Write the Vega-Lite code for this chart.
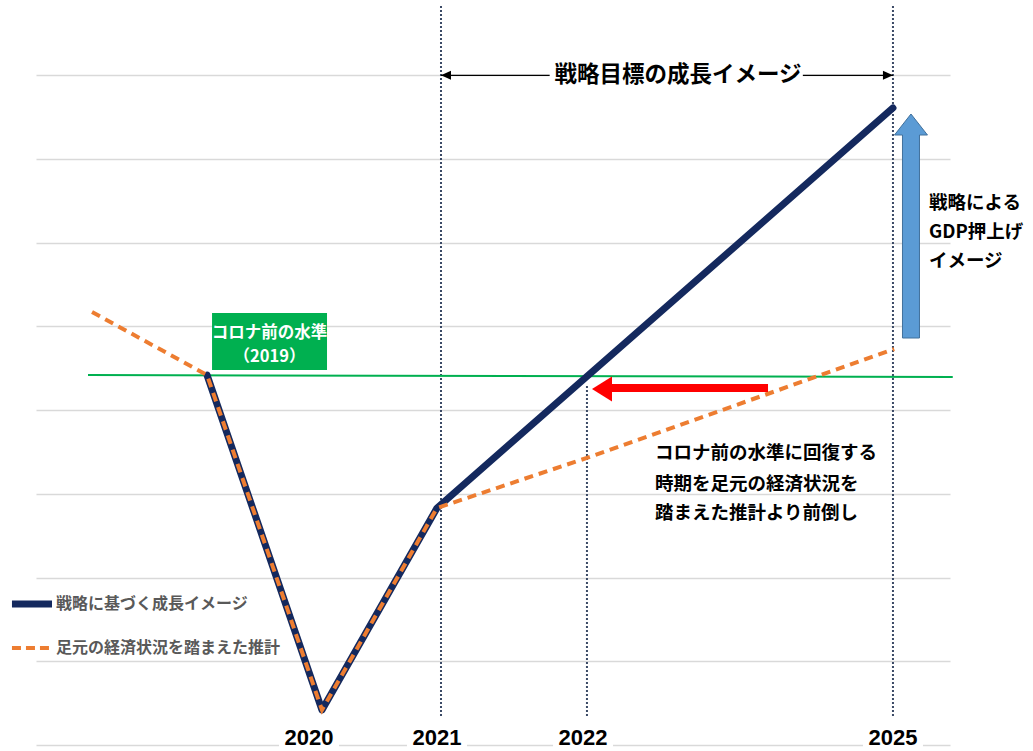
{
  "$schema": "https://vega.github.io/schema/vega-lite/v6.json",
  "width": 914,
  "height": 745,
  "autosize": "none",
  "padding": {"left": 36, "top": 0, "right": 83, "bottom": 6},
  "background": "white",
  "config": {"view": {"stroke": null}, "font": "Noto Sans CJK JP"},
  "datasets": {
    "navy": [
      {"x": 18.71, "y": 4.42},
      {"x": 31.29, "y": 0.418},
      {"x": 43.87, "y": 2.831},
      {"x": 93.76, "y": 7.61}
    ],
    "orange": [
      {"x": 6.13, "y": 5.173},
      {"x": 18.71, "y": 4.42},
      {"x": 31.29, "y": 0.418},
      {"x": 43.87, "y": 2.831},
      {"x": 60.28, "y": 3.43},
      {"x": 93.9, "y": 4.73}
    ],
    "vlines": [
      {"year": "2021", "x": 44.31, "y": 0.346, "y2": 8.84},
      {"year": "2022", "x": 60.28, "y": 0.346, "y2": 4.30},
      {"year": "2025", "x": 93.76, "y": 0.346, "y2": 8.84}
    ],
    "green": [{"x": 5.69, "y": 4.42, "x2": 100.3, "y2": 4.396}],
    "span": [{"x": 44.31, "x2": 93.76, "y": 8.0}],
    "spanHeads": [
      {"dir": "L", "x": 44.31, "y": 8.0},
      {"dir": "R", "x": 93.76, "y": 8.0}
    ],
    "title": [{"label": "戦略目標の成長イメージ", "x": 70.24, "y": 8.0, "x1": 56.2, "x2": 83.9, "y1": 7.85, "y2": 8.16}],
    "box": [{"x": 19.26, "x2": 31.84, "y": 5.161, "y2": 4.48}],
    "boxText": [
      {"label": "コロナ前の水準", "x": 25.55, "y": 4.922},
      {"label": "（2019）", "x": 25.55, "y": 4.635}
    ],
    "blueArrow": [{"x": 95.73, "y": 7.538}],
    "rightText": [
      {"label": "戦略による", "x": 97.7, "y": 6.475},
      {"label": "GDP押上げ", "x": 97.7, "y": 6.128},
      {"label": "イメージ", "x": 97.7, "y": 5.782}
    ],
    "redShaft": [{"x": 62.8, "x2": 80.09, "y": 4.265}],
    "redHead": [{"x": 60.83, "y": 4.253}],
    "note": [
      {"label": "コロナ前の水準に回復する", "x": 67.72, "y": 3.488},
      {"label": "時期を足元の経済状況を", "x": 67.72, "y": 3.118},
      {"label": "踏まえた推計より前倒し", "x": 67.72, "y": 2.771}
    ],
    "years": [
      {"label": "2020", "x": 29.87, "y": 0.08},
      {"label": "2021", "x": 43.87, "y": 0.08},
      {"label": "2022", "x": 59.85, "y": 0.08},
      {"label": "2025", "x": 93.76, "y": 0.08}
    ],
    "legend": [
      {"series": "戦略に基づく成長イメージ", "x": -2.63, "x2": 1.75, "y": 1.684, "tx": 2.19},
      {"series": "足元の経済状況を踏まえた推計", "x": -2.63, "x2": 1.75, "y": 1.159, "tx": 2.19}
    ]
  },
  "layer": [
    {
      "data": {"name": "vlines"},
      "mark": {"type": "rule", "color": "#3b4a66", "strokeWidth": 2, "strokeDash": [2, 2]},
      "encoding": {
        "x": {"field": "x", "type": "quantitative", "scale": {"domain": [0, 100], "nice": false, "zero": false}, "axis": null},
        "y": {"field": "y", "type": "quantitative", "scale": {"domain": [0, 8.9], "nice": false, "zero": false},
          "axis": {"values": [0, 1, 2, 3, 4, 5, 6, 7, 8], "grid": true, "gridColor": "#d9d9d9", "gridWidth": 1.5, "labels": false, "ticks": false, "domain": false, "title": null}},
        "y2": {"field": "y2"}
      }
    },
    {
      "data": {"name": "green"},
      "mark": {"type": "rule", "color": "#00b050", "strokeWidth": 2},
      "encoding": {
        "x": {"field": "x", "type": "quantitative"},
        "x2": {"field": "x2"},
        "y": {"field": "y", "type": "quantitative"},
        "y2": {"field": "y2"}
      }
    },
    {
      "data": {"name": "span"},
      "mark": {"type": "rule", "color": "#000000", "strokeWidth": 1.3},
      "encoding": {
        "x": {"field": "x", "type": "quantitative"},
        "x2": {"field": "x2"},
        "y": {"field": "y", "type": "quantitative"}
      }
    },
    {
      "data": {"name": "spanHeads"},
      "mark": {"type": "point", "filled": true, "color": "#000000", "opacity": 1, "size": 400, "strokeWidth": 0},
      "encoding": {
        "x": {"field": "x", "type": "quantitative"},
        "y": {"field": "y", "type": "quantitative"},
        "shape": {"field": "dir", "type": "nominal", "legend": null,
          "scale": {"domain": ["L", "R"], "range": ["M0,0 L1,-0.45 L1,0.45 Z", "M0,0 L-1,-0.45 L-1,0.45 Z"]}}
      }
    },
    {
      "data": {"name": "title"},
      "mark": {"type": "rect", "color": "white", "opacity": 1},
      "encoding": {
        "x": {"field": "x1", "type": "quantitative"},
        "x2": {"field": "x2"},
        "y": {"field": "y1", "type": "quantitative"},
        "y2": {"field": "y2"}
      }
    },
    {
      "data": {"name": "title"},
      "mark": {"type": "text", "fontSize": 22.5, "fontWeight": "bold", "color": "#000000", "align": "center", "baseline": "middle"},
      "encoding": {
        "x": {"field": "x", "type": "quantitative"},
        "y": {"field": "y", "type": "quantitative"},
        "text": {"field": "label"}
      }
    },
    {
      "data": {"name": "navy"},
      "mark": {"type": "line", "color": "#14295e", "strokeWidth": 7, "strokeJoin": "round", "strokeCap": "round"},
      "encoding": {
        "x": {"field": "x", "type": "quantitative"},
        "y": {"field": "y", "type": "quantitative"},
        "order": {"field": "x"}
      }
    },
    {
      "data": {"name": "orange"},
      "mark": {"type": "line", "color": "#ed7d31", "strokeWidth": 4, "strokeDash": [9, 6]},
      "encoding": {
        "x": {"field": "x", "type": "quantitative"},
        "y": {"field": "y", "type": "quantitative"},
        "order": {"field": "x"}
      }
    },
    {
      "data": {"name": "box"},
      "mark": {"type": "rect", "color": "#00b050", "opacity": 1},
      "encoding": {
        "x": {"field": "x", "type": "quantitative"},
        "x2": {"field": "x2"},
        "y": {"field": "y", "type": "quantitative"},
        "y2": {"field": "y2"}
      }
    },
    {
      "data": {"name": "boxText"},
      "mark": {"type": "text", "fontSize": 16.5, "fontWeight": "bold", "color": "white", "align": "center", "baseline": "middle"},
      "encoding": {
        "x": {"field": "x", "type": "quantitative"},
        "y": {"field": "y", "type": "quantitative"},
        "text": {"field": "label"}
      }
    },
    {
      "data": {"name": "blueArrow"},
      "mark": {"type": "point", "filled": true, "fill": "#5b9bd5", "stroke": "#41719c", "strokeWidth": 1, "opacity": 1, "size": 400,
        "shape": "M0,0 L1.65,2.1 L0.85,2.1 L0.85,22.4 L-0.85,22.4 L-0.85,2.1 L-1.65,2.1 Z"},
      "encoding": {
        "x": {"field": "x", "type": "quantitative"},
        "y": {"field": "y", "type": "quantitative"}
      }
    },
    {
      "data": {"name": "rightText"},
      "mark": {"type": "text", "fontSize": 18.5, "fontWeight": "bold", "color": "#000000", "align": "left", "baseline": "middle"},
      "encoding": {
        "x": {"field": "x", "type": "quantitative"},
        "y": {"field": "y", "type": "quantitative"},
        "text": {"field": "label"}
      }
    },
    {
      "data": {"name": "redShaft"},
      "mark": {"type": "rule", "color": "#ff0000", "strokeWidth": 8},
      "encoding": {
        "x": {"field": "x", "type": "quantitative"},
        "x2": {"field": "x2"},
        "y": {"field": "y", "type": "quantitative"}
      }
    },
    {
      "data": {"name": "redHead"},
      "mark": {"type": "point", "filled": true, "color": "#ff0000", "opacity": 1, "size": 1600, "strokeWidth": 0,
        "shape": "M0,0 L1,-0.625 L1,0.625 Z"},
      "encoding": {
        "x": {"field": "x", "type": "quantitative"},
        "y": {"field": "y", "type": "quantitative"}
      }
    },
    {
      "data": {"name": "note"},
      "mark": {"type": "text", "fontSize": 18.5, "fontWeight": "bold", "color": "#000000", "align": "left", "baseline": "middle"},
      "encoding": {
        "x": {"field": "x", "type": "quantitative"},
        "y": {"field": "y", "type": "quantitative"},
        "text": {"field": "label"}
      }
    },
    {
      "data": {"name": "years"},
      "mark": {"type": "point", "filled": true, "color": "white", "opacity": 1, "size": 3600, "strokeWidth": 0,
        "shape": "M-1,-0.4 L1,-0.4 L1,0.4 L-1,0.4 Z"},
      "encoding": {
        "x": {"field": "x", "type": "quantitative"},
        "y": {"field": "y", "type": "quantitative"}
      }
    },
    {
      "data": {"name": "years"},
      "mark": {"type": "text", "fontSize": 22, "fontWeight": "bold", "font": "Liberation Sans", "color": "#000000", "align": "center", "baseline": "middle"},
      "encoding": {
        "x": {"field": "x", "type": "quantitative"},
        "y": {"field": "y", "type": "quantitative"},
        "text": {"field": "label"}
      }
    },
    {
      "data": {"name": "legend"},
      "mark": {"type": "rule", "strokeCap": "butt"},
      "encoding": {
        "x": {"field": "x", "type": "quantitative"},
        "x2": {"field": "x2"},
        "y": {"field": "y", "type": "quantitative"},
        "color": {"field": "series", "type": "nominal", "legend": null,
          "scale": {"domain": ["戦略に基づく成長イメージ", "足元の経済状況を踏まえた推計"], "range": ["#14295e", "#ed7d31"]}},
        "strokeWidth": {"field": "series", "type": "nominal", "legend": null,
          "scale": {"domain": ["戦略に基づく成長イメージ", "足元の経済状況を踏まえた推計"], "range": [7, 4]}},
        "strokeDash": {"field": "series", "type": "nominal", "legend": null,
          "scale": {"domain": ["戦略に基づく成長イメージ", "足元の経済状況を踏まえた推計"], "range": [[1, 0], [9, 5]]}}
      }
    },
    {
      "data": {"name": "legend"},
      "mark": {"type": "text", "fontSize": 16, "fontWeight": "bold", "color": "#595959", "align": "left", "baseline": "middle"},
      "encoding": {
        "x": {"field": "tx", "type": "quantitative"},
        "y": {"field": "y", "type": "quantitative"},
        "text": {"field": "series"}
      }
    }
  ]
}
